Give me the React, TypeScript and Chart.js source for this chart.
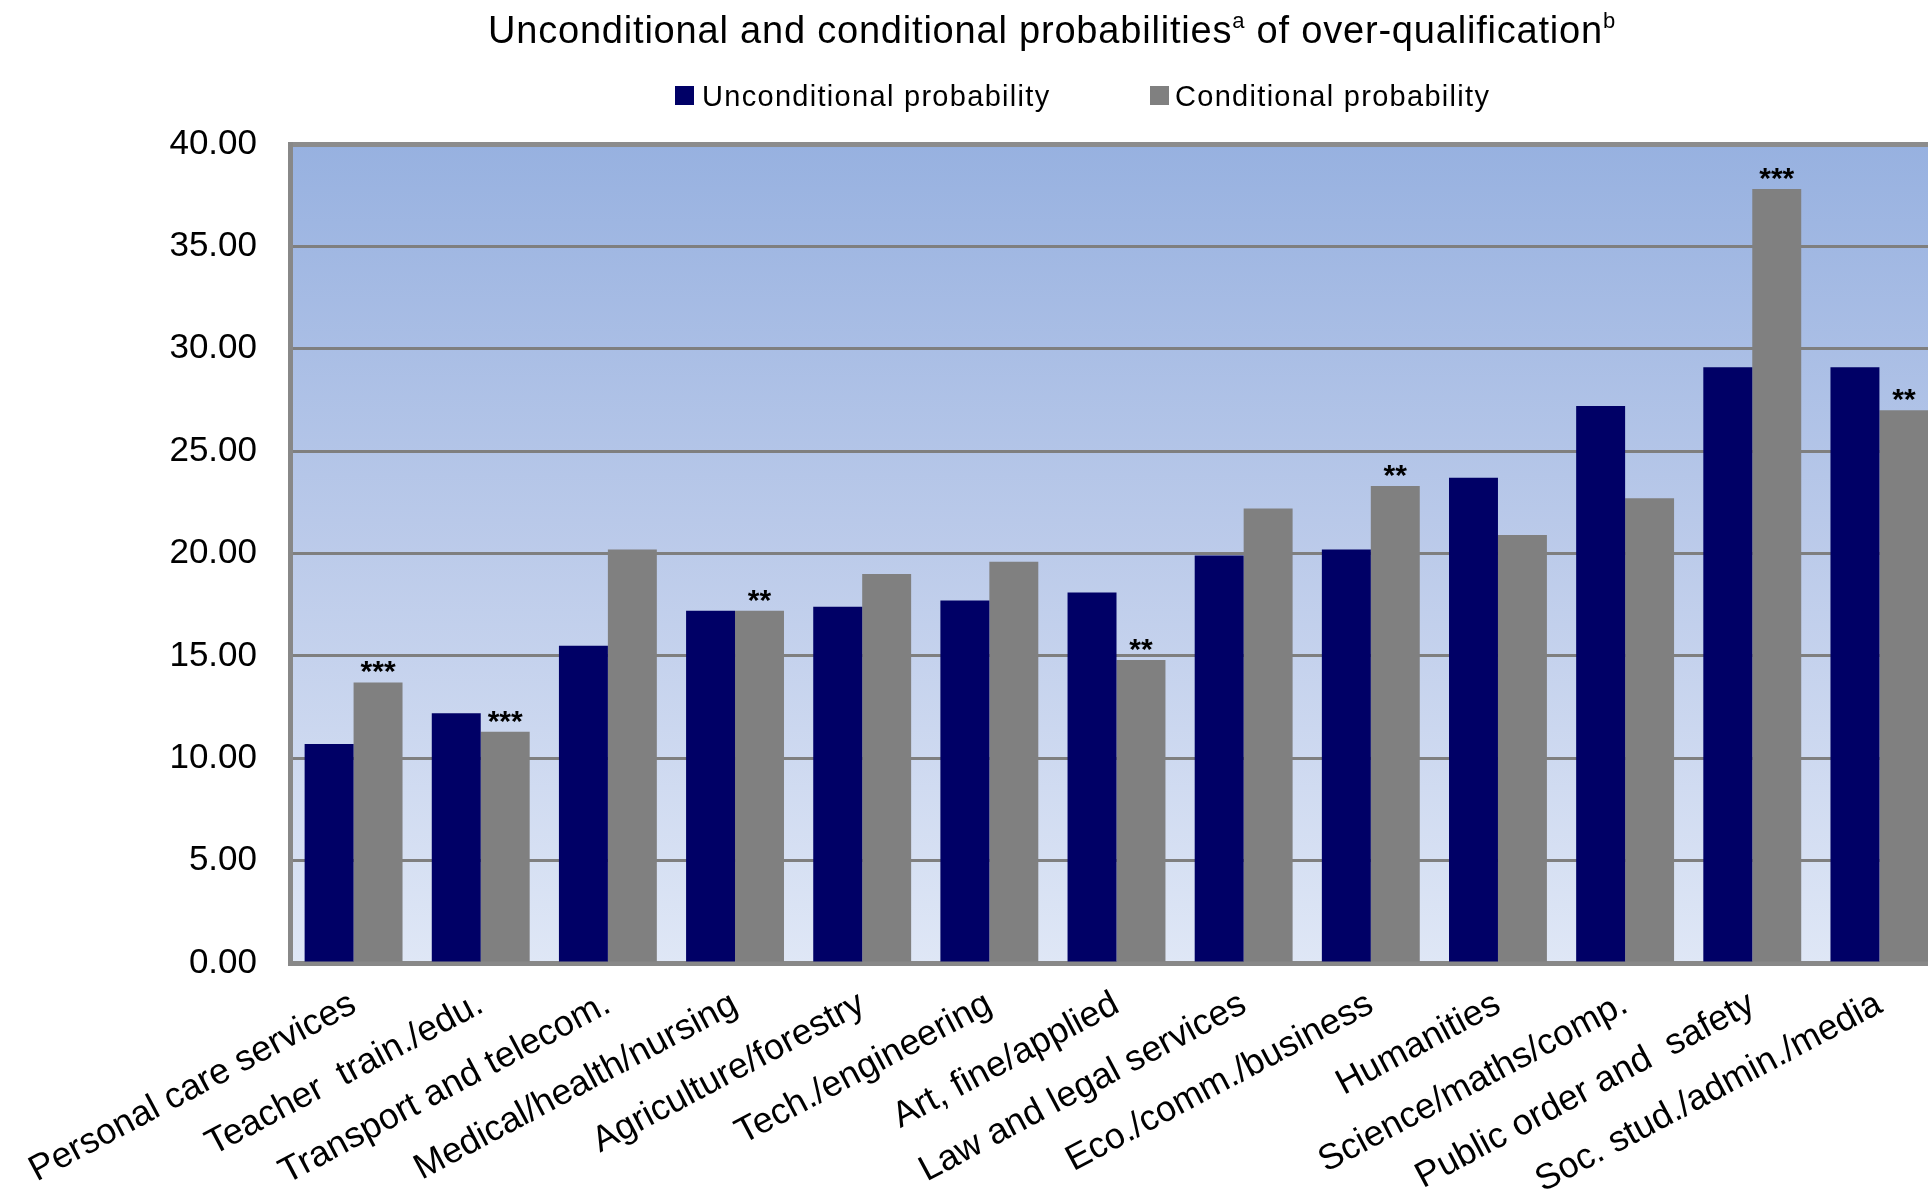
import React, { useEffect, useRef } from "react";
import { Chart, registerables } from "chart.js";

Chart.register(...registerables);

const FONT = "'Liberation Sans', Arial, Helvetica, sans-serif";

const categories = [
  "Personal care services",
  "Teacher  train./edu.",
  "Transport and telecom.",
  "Medical/health/nursing",
  "Agriculture/forestry",
  "Tech./engineering",
  "Art, fine/applied",
  "Law and legal services",
  "Eco./comm./business",
  "Humanities",
  "Science/maths/comp.",
  "Public order and  safety",
  "Soc. stud./admin./media",
];

const seriesNames = ["Unconditional probability", "Conditional probability"];

const unconditional = [10.7, 12.2, 15.5, 17.2, 17.4, 17.7, 18.1, 19.9, 20.2, 23.7, 27.2, 29.1, 29.1];
const conditional = [13.7, 11.3, 20.2, 17.2, 19.0, 19.6, 14.8, 22.2, 23.3, 20.9, 22.7, 37.8, 27.0];
const significance = ["***", "***", "", "**", "", "", "**", "", "**", "", "", "***", "**"];

const yTicks = { min: 0, max: 40, step: 5 };

const NAVY = "#000066";
const GRAY = "#808080";

const bgPlugin = {
  id: "plotBackground",
  beforeDraw(chart: any) {
    const { ctx, chartArea } = chart;
    if (!chartArea) return;
    const g = ctx.createLinearGradient(0, chartArea.top, 0, chartArea.bottom);
    g.addColorStop(0, "#97b1e0");
    g.addColorStop(0.5, "#bccbea");
    g.addColorStop(1, "#dfe7f6");
    ctx.save();
    ctx.fillStyle = g;
    ctx.fillRect(chartArea.left, chartArea.top, chartArea.right - chartArea.left, chartArea.bottom - chartArea.top);
    ctx.restore();
  },
};

const starsPlugin = {
  id: "significanceStars",
  afterDatasetsDraw(chart: any) {
    const { ctx } = chart;
    const meta = chart.getDatasetMeta(1);
    ctx.save();
    ctx.font = `bold 30px ${FONT}`;
    ctx.textAlign = "center";
    ctx.textBaseline = "alphabetic";
    ctx.fillStyle = "#000";
    meta.data.forEach((el: any, i: number) => {
      const s = significance[i];
      if (s) ctx.fillText(s, el.x, el.y - 1);
    });
    ctx.restore();
  },
};

export default function App() {
  const canvasRef = useRef<HTMLCanvasElement | null>(null);

  useEffect(() => {
    const canvas = canvasRef.current;
    if (!canvas) return;
    const chart = new Chart(canvas, {
      type: "bar",
      data: {
        labels: categories,
        datasets: [
          {
            label: seriesNames[0],
            data: unconditional,
            backgroundColor: NAVY,
            categoryPercentage: 0.77,
            barPercentage: 1,
          },
          {
            label: seriesNames[1],
            data: conditional,
            backgroundColor: GRAY,
            categoryPercentage: 0.77,
            barPercentage: 1,
          },
        ],
      },
      options: {
        responsive: false,
        animation: false,
        devicePixelRatio: 1,
        layout: { padding: { top: 144, right: 7, bottom: 0, left: 0 } },
        plugins: {
          legend: { display: false },
          title: { display: false },
          tooltip: { enabled: false },
        },
        scales: {
          x: {
            grid: { display: false, drawTicks: false },
            border: { display: true, color: "#888888", width: 5 },
            ticks: {
              autoSkip: false,
              minRotation: 28,
              maxRotation: 28,
              padding: 20,
              color: "#000",
              font: { family: FONT, size: 36 },
            },
            afterFit: (s: any) => {
              s.height = 228;
            },
          },
          y: {
            min: yTicks.min,
            max: yTicks.max,
            ticks: {
              stepSize: yTicks.step,
              padding: 33,
              color: "#000",
              font: { family: FONT, size: 35 },
              callback: (v: any) => Number(v).toFixed(2),
            },
            grid: {
              drawTicks: false,
              color: (c: any) => (c.tick && c.tick.value === yTicks.max ? "#8c8c8c" : "#7f7f7f"),
              lineWidth: (c: any) => (c.tick && c.tick.value === yTicks.max ? 5 : 3),
            },
            border: { display: true, color: "#888888", width: 5 },
            afterFit: (s: any) => {
              s.width = 290;
            },
          },
        },
      },
      plugins: [bgPlugin, starsPlugin],
    } as any);
    return () => chart.destroy();
  }, []);

  const legendText: React.CSSProperties = {
    position: "absolute",
    top: 82,
    fontFamily: FONT,
    fontSize: 29,
    lineHeight: "29px",
    letterSpacing: "1.3px",
    color: "#000",
    whiteSpace: "nowrap",
  };

  return (
    <div
      style={{
        position: "fixed",
        left: 0,
        top: 0,
        width: 1928,
        height: 1191,
        overflow: "hidden",
        background: "#fff",
      }}
    >
      <canvas ref={canvasRef} width={1950} height={1191} style={{ position: "absolute", left: 0, top: 0 }} />
      <div
        style={{
          position: "absolute",
          left: 488,
          top: 11,
          fontFamily: FONT,
          fontSize: 38,
          lineHeight: "38px",
          letterSpacing: "0.8px",
          color: "#000",
          whiteSpace: "nowrap",
        }}
      >
        Unconditional and conditional probabilities
        <sup style={{ fontSize: 22, lineHeight: 0, verticalAlign: "15px" }}>a</sup> of over-qualification
        <sup style={{ fontSize: 22, lineHeight: 0, verticalAlign: "15px" }}>b</sup>
      </div>
      <div style={{ position: "absolute", left: 675, top: 86, width: 19, height: 19, background: NAVY }} />
      <div style={{ ...legendText, left: 702 }}>{seriesNames[0]}</div>
      <div style={{ position: "absolute", left: 1150, top: 86, width: 19, height: 19, background: GRAY }} />
      <div style={{ ...legendText, left: 1175 }}>{seriesNames[1]}</div>
    </div>
  );
}
